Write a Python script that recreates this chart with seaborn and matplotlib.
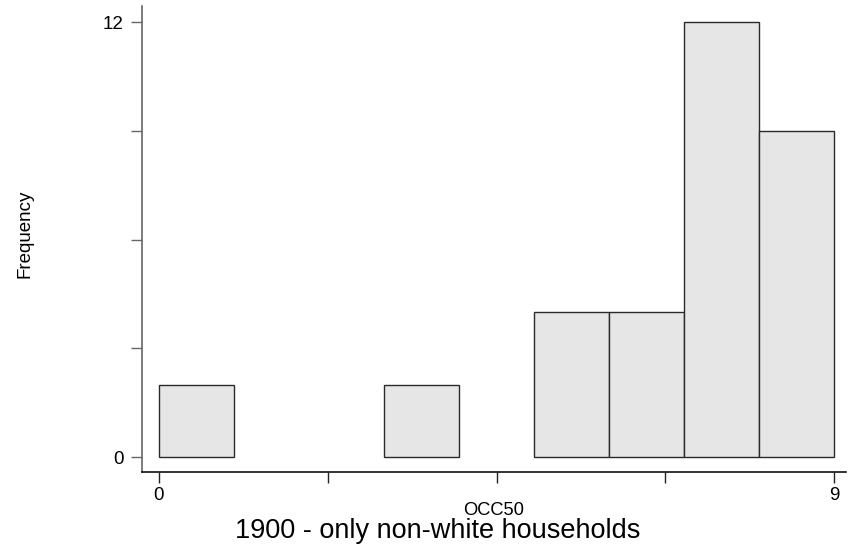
import numpy as np
import pandas as pd
import matplotlib
matplotlib.use("Agg")
import matplotlib.pyplot as plt
import seaborn as sns

# Data: histogram of OCC50 (bin width 1, from 0 to 9)
bin_left = [0, 1, 2, 3, 4, 5, 6, 7, 8]
counts = [2, 0, 0, 2, 0, 4, 4, 12, 9]
bin_edges = [0, 1, 2, 3, 4, 5, 6, 7, 8, 9]
y_ticks = [0, 3, 6, 9, 12]
y_tick_labels = ["0", "", "", "", "12"]
x_ticks = [0, 2.25, 4.5, 6.75, 9]
x_tick_labels = ["0", "", "", "", "9"]

df = pd.DataFrame({"OCC50": [b + 0.5 for b in bin_left], "count": counts})

sns.set_style("white")
plt.rcParams["font.family"] = ["Liberation Sans", "DejaVu Sans"]
plt.rcParams["text.color"] = "black"
plt.rcParams["xtick.color"] = "black"
plt.rcParams["ytick.color"] = "black"

W, H = 848, 554
fig = plt.figure(figsize=(W / 100, H / 100), dpi=100)
left_px, right_px, bottom_px, top_px = 142, 846, 472, 6
ax = fig.add_axes([left_px / W, 1 - bottom_px / H, (right_px - left_px) / W, (bottom_px - top_px) / H])

sns.histplot(data=df, x="OCC50", weights="count", bins=bin_edges, ax=ax,
             color="#e6e6e6", alpha=1, edgecolor="#2a2a2a", linewidth=1.0)
for p in ax.patches:
    if p.get_height() == 0:
        p.set_visible(False)

# data->pixel: x0 at 159px, 9 at 834px ; y0 at 457px, 12 at 22px
xscale = (834 - 159) / 9
yscale = (457 - 22) / 12
ax.set_xlim((left_px - 159) / xscale, (right_px - 159) / xscale)
ax.set_ylim((457 - bottom_px) / yscale, (457 - top_px) / yscale)

ax.set_yticks(y_ticks)
ax.set_yticklabels(y_tick_labels)
ax.set_xticks(x_ticks)
ax.set_xticklabels(x_tick_labels)
ax.tick_params(axis="y", length=8, width=1, color="#666666", labelcolor="black", pad=5, labelsize=13.5, left=True)
ax.tick_params(axis="x", length=8, width=1, color="#222222", labelcolor="black", pad=3, labelsize=13.5, bottom=True)

for s in ["top", "right"]:
    ax.spines[s].set_visible(False)
ax.spines["left"].set_color("#666666")
ax.spines["left"].set_linewidth(1.2)
ax.spines["bottom"].set_color("#111111")
ax.spines["bottom"].set_linewidth(1.2)

ax.set_xlabel("")
ax.set_ylabel("")
fig.text(494 / W, 1 - 515 / H, "OCC50", ha="center", va="baseline", fontsize=13.2, color="black")
fig.text(25 / W, 1 - 234 / H, "Frequency", ha="center", va="center", rotation=90, fontsize=13.5, color="black")
fig.text(438 / W, 1 - 538 / H, "1900 - only non-white households", ha="center", va="baseline", fontsize=19.5, color="black")

fig.savefig("out.png", dpi=100)
